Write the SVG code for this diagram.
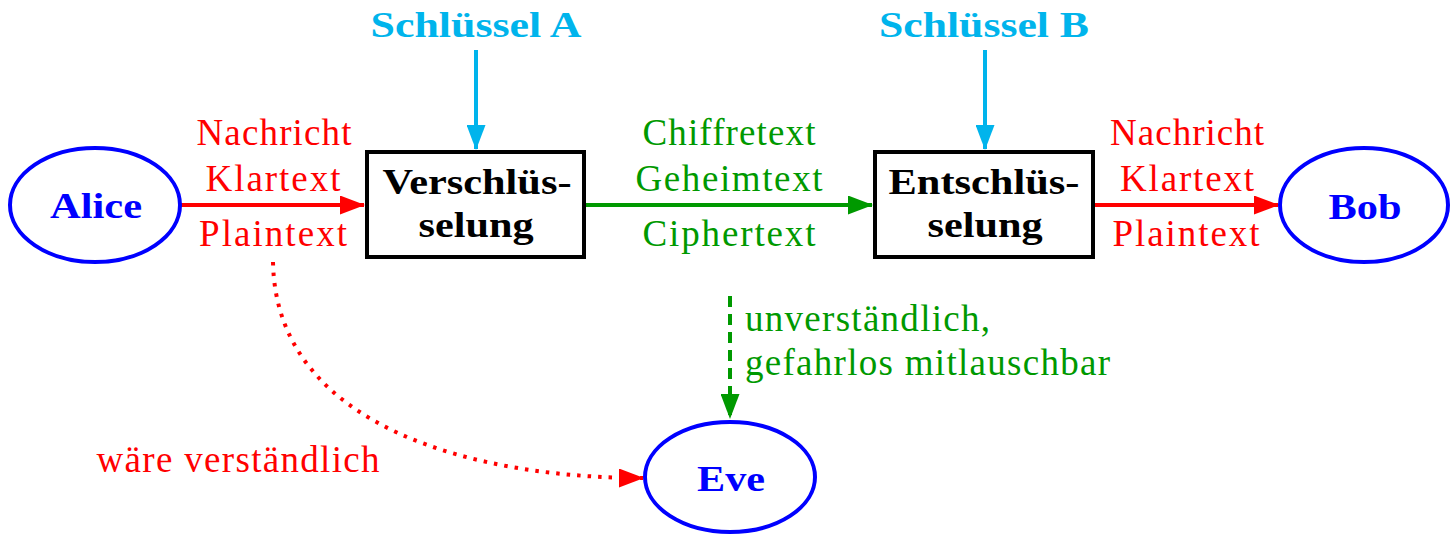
<svg xmlns="http://www.w3.org/2000/svg" width="1450" height="545" viewBox="0 0 1450 545">
<style>
text{font-family:"Liberation Serif","DejaVu Serif",serif;text-anchor:middle;font-size:37px}
.b{font-weight:bold;font-size:35px}
.node{stroke-width:4}
.ell{stroke:#0000ff;fill:#fff}
.box{stroke:#000;fill:#fff}
.nl{fill:#0000ff}
.red{fill:#ff0000}
.grn{fill:#009900}
.cy{fill:#00b4ec}
.st{text-anchor:start}
</style>
<defs>
<marker id="mr" markerWidth="25" markerHeight="19" refX="24" refY="9.5" orient="auto" markerUnits="userSpaceOnUse"><path d="M0,0 L25,9.5 L0,19 Z" fill="#ff0000"/></marker>
<marker id="mg" markerWidth="25" markerHeight="19" refX="24" refY="9.5" orient="auto" markerUnits="userSpaceOnUse"><path d="M0,0 L25,9.5 L0,19 Z" fill="#009900"/></marker>
<marker id="mc" markerWidth="25" markerHeight="19" refX="24" refY="9.5" orient="auto" markerUnits="userSpaceOnUse"><path d="M0,0 L25,9.5 L0,19 Z" fill="#00b4ec"/></marker>
</defs>

<g id="connectors" fill="none" stroke-width="4">
<line x1="180" y1="205" x2="364" y2="205" stroke="#ff0000" marker-end="url(#mr)"/>
<line x1="585" y1="205" x2="872" y2="205" stroke="#009900" marker-end="url(#mg)"/>
<line x1="1094" y1="205" x2="1278" y2="205" stroke="#ff0000" marker-end="url(#mr)"/>
<line x1="476" y1="50" x2="476" y2="149" stroke="#00b4ec" marker-end="url(#mc)"/>
<line x1="985" y1="50" x2="985" y2="149" stroke="#00b4ec" marker-end="url(#mc)"/>
<line x1="730" y1="296" x2="730" y2="418" stroke="#009900" stroke-dasharray="11,7" marker-end="url(#mg)"/>
<path d="M273,262 C276,430 480,478 643,478" stroke="#ff0000" stroke-dasharray="3.5,7" marker-end="url(#mr)"/>
</g>

<g id="alice">
<ellipse class="node ell" cx="95" cy="205" rx="85" ry="57"/>
<text class="b nl" x="96" y="218" textLength="92" lengthAdjust="spacingAndGlyphs">Alice</text>
</g>
<g id="verschluesselung">
<rect class="node box" x="367" y="152" width="217" height="105"/>
<text class="b" x="477" y="194" textLength="189" lengthAdjust="spacingAndGlyphs">Verschlüs-</text>
<text class="b" x="476" y="237" textLength="115" lengthAdjust="spacingAndGlyphs">selung</text>
</g>
<g id="entschluesselung">
<rect class="node box" x="875" y="152" width="218" height="105"/>
<text class="b" x="984" y="194" textLength="191" lengthAdjust="spacingAndGlyphs">Entschlüs-</text>
<text class="b" x="985" y="237" textLength="115" lengthAdjust="spacingAndGlyphs">selung</text>
</g>
<g id="bob">
<ellipse class="node ell" cx="1364" cy="205" rx="84" ry="57"/>
<text class="b nl" x="1365" y="219" textLength="73" lengthAdjust="spacingAndGlyphs">Bob</text>
</g>
<g id="eve">
<ellipse class="node ell" cx="730" cy="477" rx="85" ry="55"/>
<text class="b nl" x="731" y="491" textLength="68" lengthAdjust="spacingAndGlyphs">Eve</text>
</g>
<g id="schluessel-a">
<text class="b cy" x="476" y="37" textLength="211" lengthAdjust="spacingAndGlyphs">Schlüssel A</text>
</g>
<g id="schluessel-b">
<text class="b cy" x="984" y="37" textLength="210" lengthAdjust="spacingAndGlyphs">Schlüssel B</text>
</g>

<g id="labels">
<text class="red" x="274" y="145" textLength="155" lengthAdjust="spacing">Nachricht</text>
<text class="red" x="273" y="191" textLength="135" lengthAdjust="spacing">Klartext</text>
<text class="red" x="273" y="246" textLength="148" lengthAdjust="spacing">Plaintext</text>
<text class="red" x="1187" y="145" textLength="154" lengthAdjust="spacing">Nachricht</text>
<text class="red" x="1187" y="191" textLength="134" lengthAdjust="spacing">Klartext</text>
<text class="red" x="1186" y="246" textLength="147" lengthAdjust="spacing">Plaintext</text>
<text class="grn" x="729" y="145" textLength="173" lengthAdjust="spacing">Chiffretext</text>
<text class="grn" x="729" y="191" textLength="187" lengthAdjust="spacing">Geheimtext</text>
<text class="grn" x="729" y="246" textLength="173" lengthAdjust="spacing">Ciphertext</text>
<text class="grn st" x="745" y="331" textLength="245" lengthAdjust="spacing">unverständlich,</text>
<text class="grn st" x="745" y="375" textLength="365" lengthAdjust="spacing">gefahrlos mitlauschbar</text>
<text class="red" x="238" y="472" textLength="283" lengthAdjust="spacing">wäre verständlich</text>
</g>
</svg>
